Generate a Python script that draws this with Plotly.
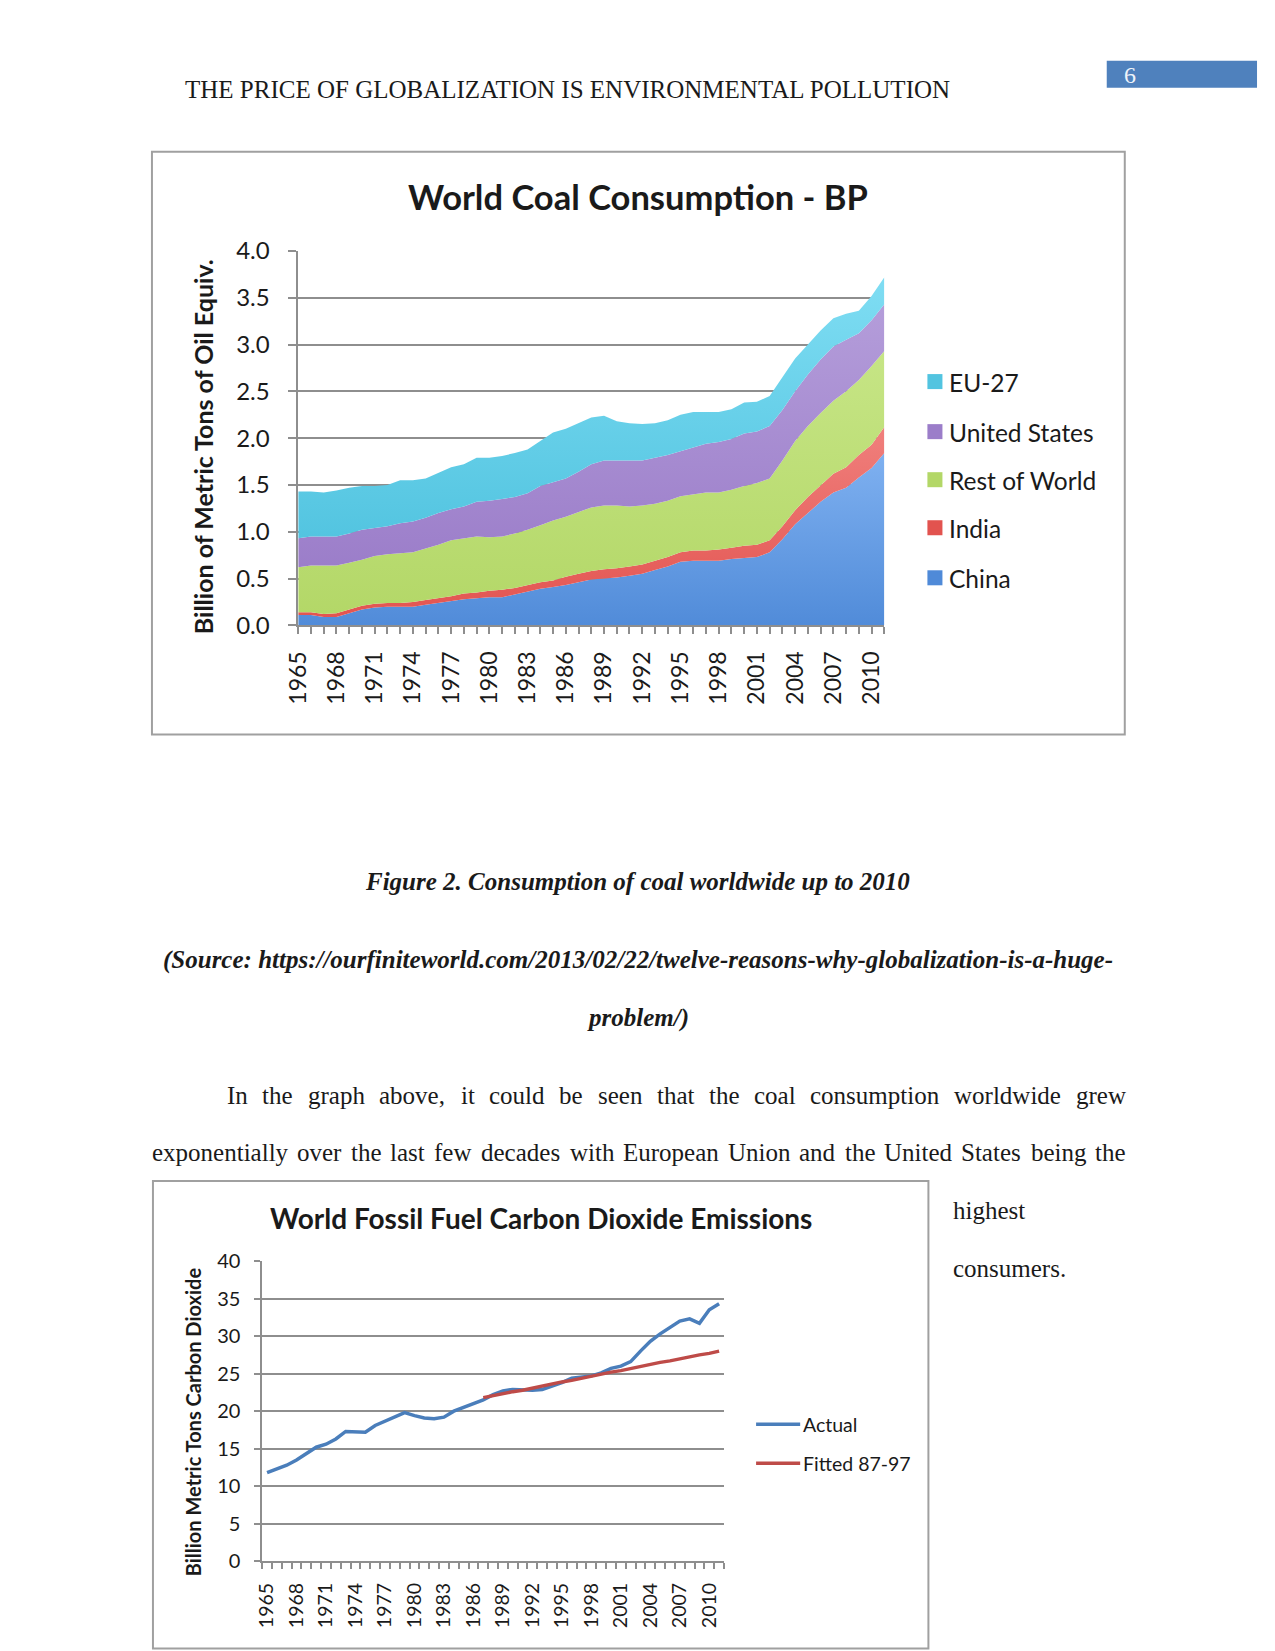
import plotly.graph_objects as go

W, H = 1275, 1680
# measured mapping of the rendered page onto the screenshot
OX, OY, SX, SY = 16.3, 16.3, 0.9856, 0.9817

def px(x):
    return ((x - OX) / SX) / W

def py(y):
    return 1 - ((y - OY) / SY) / H

# ---------------- Chart 1 data: World Coal Consumption - BP ----------------
years1 = list(range(1965, 2012))
china = [0.11, 0.11, 0.09, 0.09, 0.13, 0.17, 0.19, 0.20, 0.20, 0.20,
         0.22, 0.24, 0.26, 0.28, 0.29, 0.30, 0.30, 0.33, 0.36, 0.39,
         0.41, 0.43, 0.46, 0.49, 0.50, 0.51, 0.53, 0.55, 0.59, 0.63,
         0.68, 0.69, 0.69, 0.69, 0.71, 0.72, 0.73, 0.78, 0.92, 1.08,
         1.20, 1.32, 1.42, 1.47, 1.58, 1.68, 1.84]
india = [0.03, 0.03, 0.03, 0.04, 0.04, 0.04, 0.04, 0.04, 0.04, 0.05,
         0.05, 0.05, 0.05, 0.06, 0.06, 0.07, 0.08, 0.07, 0.07, 0.07,
         0.07, 0.09, 0.09, 0.09, 0.10, 0.10, 0.10, 0.10, 0.10, 0.10,
         0.10, 0.11, 0.11, 0.12, 0.12, 0.13, 0.13, 0.13, 0.14, 0.15,
         0.17, 0.18, 0.20, 0.22, 0.24, 0.25, 0.28]
rest_of_world = [0.48, 0.50, 0.52, 0.51, 0.50, 0.49, 0.51, 0.52, 0.53, 0.53,
                 0.55, 0.57, 0.60, 0.59, 0.60, 0.57, 0.57, 0.58, 0.59, 0.61,
                 0.64, 0.64, 0.66, 0.68, 0.68, 0.67, 0.64, 0.63, 0.61, 0.60,
                 0.60, 0.60, 0.62, 0.61, 0.62, 0.64, 0.66, 0.66, 0.70, 0.74,
                 0.76, 0.77, 0.78, 0.81, 0.80, 0.84, 0.81]
united_states = [0.31, 0.31, 0.31, 0.31, 0.31, 0.32, 0.30, 0.30, 0.32, 0.33,
                 0.33, 0.34, 0.33, 0.34, 0.37, 0.39, 0.40, 0.39, 0.39, 0.42,
                 0.41, 0.41, 0.43, 0.46, 0.48, 0.48, 0.49, 0.48, 0.49, 0.49,
                 0.48, 0.50, 0.52, 0.54, 0.54, 0.56, 0.55, 0.56, 0.54, 0.53,
                 0.55, 0.57, 0.58, 0.55, 0.50, 0.49, 0.50]
eu27 = [0.50, 0.48, 0.47, 0.49, 0.49, 0.47, 0.45, 0.44, 0.46, 0.44,
        0.42, 0.43, 0.45, 0.45, 0.47, 0.46, 0.46, 0.47, 0.47, 0.48,
        0.53, 0.53, 0.52, 0.50, 0.48, 0.42, 0.40, 0.39, 0.37, 0.37,
        0.39, 0.38, 0.34, 0.32, 0.32, 0.33, 0.32, 0.32, 0.35, 0.35,
        0.32, 0.31, 0.30, 0.28, 0.24, 0.26, 0.29]
series1_names = ["China", "India", "Rest of World", "United States", "EU-27"]
series1_colors = ["#4F8AD8", "#E2534F", "#B3D767", "#9B7DC9", "#52C4E0"]
series1_light = ["#7EB0F0", "#F07F7C", "#C6E585", "#B49DDA", "#7FDDF3"]
x1_ticks = list(range(1965, 2011, 3))
y1_ticks = [0.0, 0.5, 1.0, 1.5, 2.0, 2.5, 3.0, 3.5, 4.0]

# ---------------- Chart 2 data: World Fossil Fuel CO2 Emissions ----------------
years2 = list(range(1965, 2012))
actual = [11.8, 12.3, 12.8, 13.5, 14.4, 15.2, 15.6, 16.3, 17.3, 17.2,
          17.2, 18.1, 18.7, 19.2, 19.8, 19.4, 19.1, 19.0, 19.2, 20.0,
          20.5, 21.0, 21.5, 22.2, 22.7, 22.9, 22.8, 22.8, 22.9, 23.3,
          23.8, 24.4, 24.6, 24.7, 25.1, 25.7, 26.0, 26.6, 28.0, 29.3,
          30.3, 31.2, 32.0, 32.3, 31.7, 33.5, 34.3]
fitted_years = list(range(1987, 2012))
fitted = [21.8, 22.1, 22.3, 22.6, 22.8, 23.1, 23.3, 23.6, 23.9, 24.1,
          24.4, 24.6, 24.9, 25.2, 25.4, 25.7, 25.9, 26.2, 26.5, 26.7,
          27.0, 27.2, 27.5, 27.7, 28.0]
x2_ticks = list(range(1965, 2011, 3))
y2_ticks = [0, 5, 10, 15, 20, 25, 30, 35, 40]

SANS = "Lato, 'Open Sans', sans-serif"
SERIF = "'Liberation Serif', 'Times New Roman', serif"
GRID = "#8e8e8e"
TXT = "#1a1a1a"

fig = go.Figure()

cum_prev = [0.0] * len(years1)
for name, vals, col, light in zip(series1_names, [china, india, rest_of_world, united_states, eu27],
                                  series1_colors, series1_light):
    top = [a + b for a, b in zip(cum_prev, vals)]
    fig.add_trace(go.Scatter(x=years1, y=vals, name=name, mode="lines",
                             stackgroup="coal", line=dict(width=0, color=col),
                             fillcolor=col,
                             fillgradient=dict(type="vertical",
                                               colorscale=[[0, col], [1, light]],
                                               start=min(cum_prev), stop=max(top)),
                             xaxis="x", yaxis="y", showlegend=False))
    cum_prev = top

fig.add_trace(go.Scatter(x=years2, y=actual, name="Actual", mode="lines",
                         line=dict(color="#4A7EBB", width=3.5),
                         xaxis="x2", yaxis="y2", showlegend=False))
fig.add_trace(go.Scatter(x=fitted_years, y=fitted, name="Fitted 87-97", mode="lines",
                         line=dict(color="#BE4B48", width=3.5),
                         xaxis="x2", yaxis="y2", showlegend=False))

layout = dict(
    width=W, height=H, autosize=False,
    margin=dict(l=0, r=0, t=0, b=0, pad=0),
    paper_bgcolor="white", plot_bgcolor="rgba(0,0,0,0)",
    showlegend=False,
    xaxis=dict(domain=[px(298), px(883)], range=[1965, 2011], anchor="y",
               showgrid=False, zeroline=False, showline=True, linecolor=GRID, linewidth=1.5,
               tickmode="array", tickvals=x1_ticks, ticktext=[str(v) for v in x1_ticks],
               ticks="outside", ticklen=7, tickcolor=GRID, tickwidth=1.5,
               tickangle=-90, ticklabelstandoff=8,
               tickfont=dict(family=SANS, size=23, color=TXT),
               minor=dict(dtick=1, tick0=1965, ticks="outside", ticklen=7,
                          tickcolor=GRID, tickwidth=1.5, showgrid=False)),
    yaxis=dict(domain=[py(625), py(251)], range=[0, 4], anchor="x",
               showgrid=True, gridcolor=GRID, gridwidth=1.5, zeroline=False,
               showline=True, linecolor=GRID, linewidth=1.5,
               tickmode="array", tickvals=y1_ticks, ticktext=["%.1f" % v for v in y1_ticks],
               ticks="outside", ticklen=8, tickcolor=GRID, tickwidth=1.5,
               ticklabelstandoff=14,
               tickfont=dict(family=SANS, size=24, color=TXT)),
    xaxis2=dict(domain=[px(262), px(723)], range=[1964.5, 2011.5], anchor="y2",
                showgrid=False, zeroline=False, showline=True, linecolor=GRID, linewidth=1.5,
                tickmode="array", tickvals=x2_ticks, ticktext=[str(v) for v in x2_ticks],
                ticks="outside", ticklen=0, tickcolor=GRID,
                tickangle=-90, ticklabelstandoff=12,
                tickfont=dict(family=SANS, size=19.5, color=TXT),
                minor=dict(dtick=1, tick0=1964.5, ticks="outside", ticklen=6,
                           tickcolor=GRID, tickwidth=1.5, showgrid=False)),
    yaxis2=dict(domain=[py(1560), py(1260)], range=[0, 40], anchor="x2",
                showgrid=True, gridcolor=GRID, gridwidth=1.5, zeroline=False,
                showline=True, linecolor=GRID, linewidth=1.5,
                tickmode="array", tickvals=y2_ticks, ticktext=[str(v) for v in y2_ticks],
                ticks="outside", ticklen=6, tickcolor=GRID, tickwidth=1.5,
                ticklabelstandoff=10,
                tickfont=dict(family=SANS, size=20, color=TXT)),
)
fig.update_layout(**layout)

shapes = []
annotations = []

def add_text(text, x, y, size, family, color=TXT, xanchor="left", angle=0, weight="normal", style="normal"):
    annotations.append(dict(text=text, x=px(x), y=py(y), xref="paper", yref="paper",
                            xanchor=xanchor, yanchor="middle", showarrow=False,
                            textangle=angle, borderpad=0,
                            font=dict(size=size, family=family, color=color, weight=weight, style=style)))

# chart frames
shapes.append(dict(type="rect", xref="paper", yref="paper", x0=px(152), x1=px(1123),
                   y0=py(734), y1=py(152), line=dict(color="#a0a0a0", width=2), fillcolor="rgba(0,0,0,0)", layer="below"))
shapes.append(dict(type="rect", xref="paper", yref="paper", x0=px(153), x1=px(927),
                   y0=max(py(1647), 0.001), y1=py(1180), line=dict(color="#a0a0a0", width=2),
                   fillcolor="rgba(0,0,0,0)", layer="below"))

# header
add_text("THE PRICE OF GLOBALIZATION IS ENVIRONMENTAL POLLUTION", 184, 90, 25, SERIF)
shapes.append(dict(type="rect", xref="paper", yref="paper", x0=px(1105), x1=px(1255),
                   y0=py(88), y1=py(61), line=dict(width=0), fillcolor="#4F81BD"))
add_text("6", 1121, 75, 24, SERIF, color="#eef3fa")

# chart 1 texts
add_text("World Coal Consumption - BP", 637, 197, 34.5, SANS, xanchor="center", weight="bold")
add_text("Billion of Metric Tons of Oil Equiv.", 203, 447, 25, SANS, xanchor="center", angle=-90, weight="bold")
legend1 = list(zip(series1_names, series1_colors))[::-1]
leg1_y = [382, 432, 480, 528, 578]
for (name, col), yy in zip(legend1, leg1_y):
    shapes.append(dict(type="rect", xref="paper", yref="paper", x0=px(926), x1=px(941),
                       y0=py(yy + 7), y1=py(yy - 8), line=dict(width=0), fillcolor=col))
    add_text(name, 947, yy, 24.5, SANS)

# chart 2 texts
add_text("World Fossil Fuel Carbon Dioxide Emissions", 540, 1217, 28, SANS, xanchor="center", weight="bold")
add_text("Billion Metric Tons Carbon Dioxide", 193, 1421, 20, SANS, xanchor="center", angle=-90, weight="bold")
for name, col, yy in [("Actual", "#4A7EBB", 1423), ("Fitted 87-97", "#BE4B48", 1462)]:
    shapes.append(dict(type="line", xref="paper", yref="paper", x0=px(755), x1=px(799),
                       y0=py(yy), y1=py(yy), line=dict(color=col, width=3.5)))
    add_text(name, 801, yy, 19.5, SANS)

# captions
add_text("Figure 2. Consumption of coal worldwide up to 2010", 637, 881, 25, SERIF,
         xanchor="center", weight="bold", style="italic")
add_text("(Source: https://ourfiniteworld.com/2013/02/22/twelve-reasons-why-globalization-is-a-huge-",
         637, 959, 25, SERIF, xanchor="center", weight="bold", style="italic")
add_text("problem/)", 637, 1017, 25, SERIF, xanchor="center", weight="bold", style="italic")

# justified paragraph, word by word (left edge of each word)
line1 = [("In", 226), ("the", 261), ("graph", 307), ("above,", 378), ("it", 459), ("could", 487),
         ("be", 557), ("seen", 596), ("that", 655), ("the", 707), ("coal", 752),
         ("consumption", 808), ("worldwide", 952), ("grew", 1073)]
line2 = [("exponentially", 151), ("over", 296), ("the", 350), ("last", 389), ("few", 433),
         ("decades", 479), ("with", 568), ("European", 621), ("Union", 726), ("and", 797),
         ("the", 843), ("United", 882), ("States", 959), ("being", 1028), ("the", 1092)]
for w, x in line1:
    add_text(w, x, 1095, 25, SERIF)
for w, x in line2:
    add_text(w, x, 1152, 25, SERIF)
add_text("highest", 951, 1210, 25, SERIF)
add_text("consumers.", 951, 1267, 25, SERIF)

fig.update_layout(shapes=shapes, annotations=annotations)
fig.write_html("out.html", config={"displayModeBar": False},
               post_script="document.body.style.margin='0';document.body.style.padding='0';"
                           "document.documentElement.style.overflow='hidden';")
